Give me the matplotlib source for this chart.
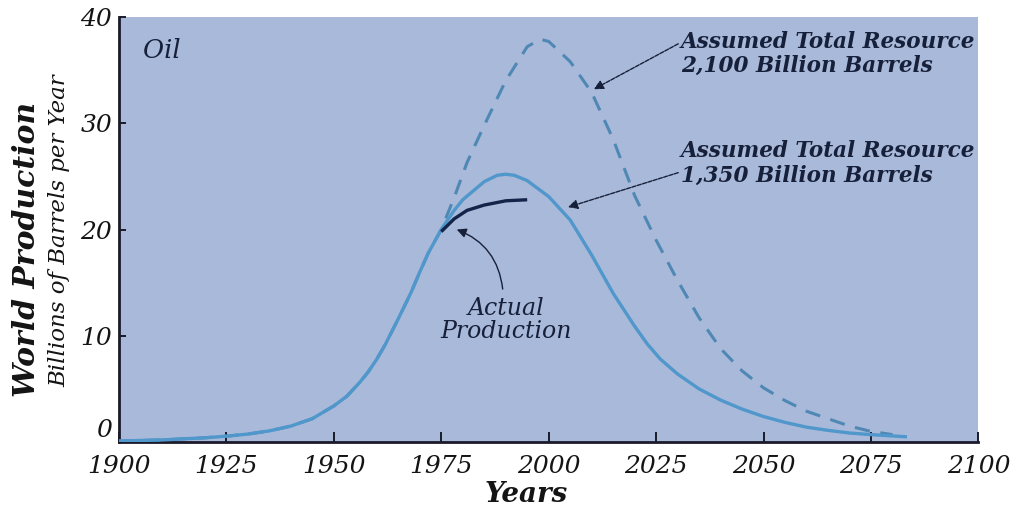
import matplotlib
matplotlib.use("Agg")
import matplotlib.pyplot as plt

# ---- data ----
years_1350 = [1900, 1905, 1910, 1915, 1920, 1925, 1930, 1935, 1940, 1945, 1950, 1953,
              1956, 1958, 1960, 1962, 1965, 1968, 1970, 1972, 1975, 1978, 1980, 1985,
              1988, 1990, 1992, 1995, 2000, 2005, 2010, 2015, 2020, 2023, 2026, 2030,
              2035, 2040, 2045, 2050, 2055, 2060, 2065, 2070, 2075, 2083]
prod_1350 = [0.1, 0.15, 0.2, 0.3, 0.4, 0.55, 0.75, 1.05, 1.5, 2.2, 3.4, 4.3,
             5.6, 6.6, 7.8, 9.2, 11.6, 14.1, 16.0, 17.8, 20.0, 21.8, 22.8, 24.5,
             25.1, 25.2, 25.1, 24.6, 23.1, 20.9, 17.6, 14.0, 10.9, 9.2, 7.8, 6.4,
             5.0, 3.95, 3.1, 2.4, 1.85, 1.4, 1.1, 0.85, 0.7, 0.5]

years_2100 = [1900, 1910, 1920, 1925, 1930, 1935, 1940, 1945, 1950, 1953, 1956, 1958,
              1960, 1962, 1965, 1968, 1970, 1972, 1975, 1978, 1981, 1985, 1990, 1995,
              1998, 2000, 2005, 2010, 2015, 2020, 2025, 2030, 2035, 2040, 2045, 2050,
              2055, 2060, 2065, 2070, 2075, 2080]
prod_2100 = [0.1, 0.2, 0.4, 0.55, 0.75, 1.05, 1.5, 2.2, 3.4, 4.3, 5.6, 6.6,
             7.8, 9.2, 11.6, 14.1, 16.0, 17.8, 20.0, 23.0, 26.3, 29.8, 34.0, 37.2,
             37.9, 37.7, 35.8, 32.9, 28.5, 23.2, 19.0, 15.2, 11.7, 8.8, 6.7, 5.1,
             3.9, 2.9, 2.2, 1.5, 1.0, 0.7]

years_actual = [1975, 1978, 1981, 1985, 1990, 1995]
prod_actual = [19.8, 21.0, 21.8, 22.3, 22.7, 22.8]

x_ticks = [1900, 1925, 1950, 1975, 2000, 2025, 2050, 2075, 2100]
y_ticks = [0, 10, 20, 30, 40]

# ---- figure ----
fig = plt.figure(figsize=(10.17, 5.14), dpi=100)
ax = fig.add_axes([0.117, 0.140, 0.845, 0.827])
ax.set_facecolor("#A9B9D9")

ax.plot(years_2100, prod_2100, color="#4F88B4", lw=2.2, dashes=(5, 3.5), zorder=3)
ax.plot(years_1350, prod_1350, color="#5097CB", lw=2.4, zorder=4)
ax.plot(years_actual, prod_actual, color="#14234A", lw=2.4, zorder=5,
        solid_capstyle="butt")

ax.set_xlim(1900, 2100)
ax.set_ylim(0, 40)
ax.set_xticks(x_ticks)
ax.set_yticks(y_ticks)

serif = "DejaVu Serif"
tick_font = dict(family=serif, style="italic", size=18)
ax.set_xticklabels([str(v) for v in x_ticks], fontdict=tick_font, color="#141414")
ax.set_yticklabels([str(v) for v in y_ticks], fontdict=tick_font, color="#141414")
ax.tick_params(axis="x", direction="in", length=7, width=1.4, color="#1a1a2a", pad=9)
ax.tick_params(axis="y", direction="in", length=5, width=1.4, color="#1a1a2a", pad=5)
ax.get_yticklabels()[0].set_va("bottom")

for s in ["top", "right"]:
    ax.spines[s].set_visible(False)
for s in ["left", "bottom"]:
    ax.spines[s].set_linewidth(2)
    ax.spines[s].set_color("#1a1a2a")

# axis labels
fig.text(0.517, 0.037, "Years", family=serif, style="italic", weight="bold",
         size=20, ha="center", va="center", color="#141414")
fig.text(0.026, 0.515, "World Production", family=serif, style="italic",
         weight="bold", size=21.5, rotation=90, ha="center", va="center",
         color="#141414")
fig.text(0.058, 0.552, "Billions of Barrels per Year", family=serif, style="italic",
         size=16.5, rotation=90, ha="center", va="center", color="#141414")

txt_col = "#17203A"
ax.text(1905.5, 36.8, "Oil", family=serif, style="italic", size=18.5,
        color=txt_col, ha="left", va="center")

ann_font = dict(family=serif, style="italic", weight="bold", size=15.5, color=txt_col)
ax.annotate("Assumed Total Resource\n2,100 Billion Barrels",
            xy=(2010.5, 33.2), xytext=(2030.8, 34.8),
            ha="left", va="baseline", linespacing=1.15, **ann_font,
            arrowprops=dict(arrowstyle="-|>", color=txt_col, lw=1.0,
                            linestyle=(0, (3, 1)), mutation_scale=14,
                            shrinkA=0, shrinkB=0, relpos=(0, 0.75)))
ax.annotate("Assumed Total Resource\n1,350 Billion Barrels",
            xy=(2004.5, 22.1), xytext=(2030.8, 24.5),
            ha="left", va="baseline", linespacing=1.15, **ann_font,
            arrowprops=dict(arrowstyle="-|>", color=txt_col, lw=1.0,
                            linestyle=(0, (3, 1)), mutation_scale=14,
                            shrinkA=0, shrinkB=0, relpos=(0, 0.32)))
ax.text(1990.1, 11.5, "Actual\nProduction", ha="center", va="center",
        linespacing=1.0, family=serif, style="italic", size=17, color=txt_col)
ax.annotate("", xy=(1978.6, 20.0), xytext=(1989.3, 14.4),
            arrowprops=dict(arrowstyle="-|>", color=txt_col, lw=1.0,
                            connectionstyle="arc3,rad=0.3", mutation_scale=14,
                            shrinkA=0, shrinkB=0))

fig.savefig("out.png", dpi=100)
